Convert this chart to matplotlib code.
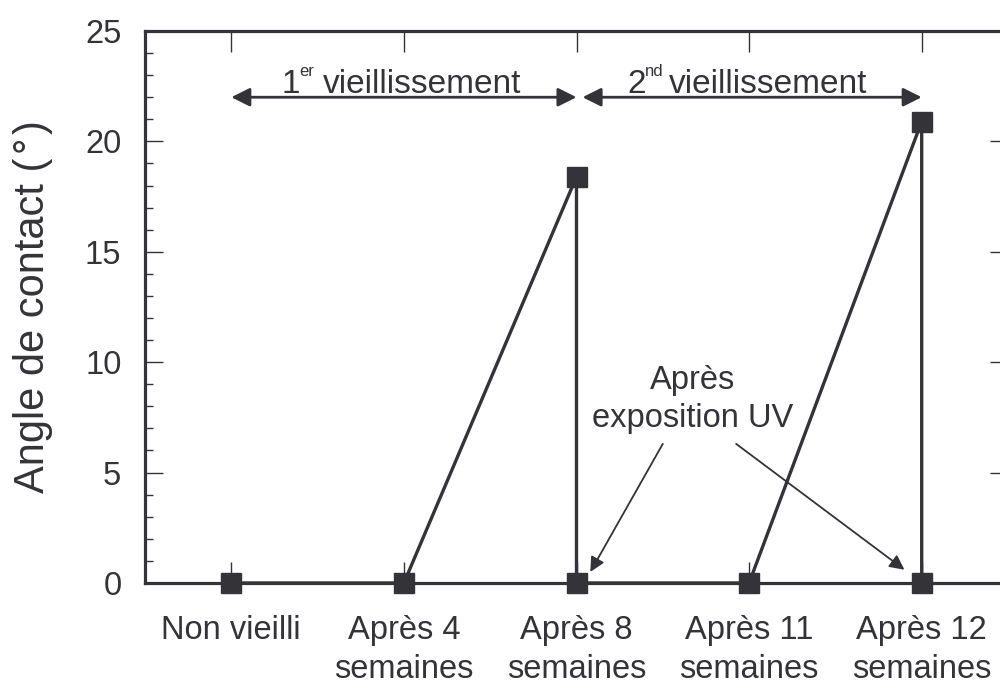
import matplotlib
matplotlib.use('Agg')
import matplotlib.pyplot as plt
from matplotlib.ticker import MultipleLocator

plt.rcParams['font.family'] = ['Liberation Sans', 'DejaVu Sans']

categories = ['Non vieilli', 'Après 4\nsemaines', 'Après 8\nsemaines',
              'Après 11\nsemaines', 'Après 12\nsemaines']
# path of the line (category index, angle), including the drops back to 0
path_x = [0, 1, 2, 2, 3, 4, 4]
path_y = [0, 0, 18.4, 0, 0, 20.9, 0]

col = '#333338'

fig = plt.figure(figsize=(10, 6.84), dpi=100)
ax = fig.add_axes([0.145, 0.1477, 0.863, 0.8070])

ax.plot(path_x, path_y, '-', color=col, lw=2.4, marker='s', ms=15,
        mfc=col, mec=col, clip_on=False, zorder=5)

ax.set_xlim(-0.5, 4.5)
ax.set_ylim(0, 25)
ax.set_xticks(range(len(categories)))
ax.set_xticklabels(categories, fontsize=23.5, color=col, linespacing=1.32)
ax.yaxis.set_major_locator(MultipleLocator(5))
ax.yaxis.set_minor_locator(MultipleLocator(1))
ax.tick_params(axis='both', which='both', direction='in', colors=col,
               top=True, right=True, width=1)
ax.tick_params(axis='y', which='major', length=13, labelsize=23.5, pad=17)
ax.tick_params(axis='y', which='minor', length=6)
ax.tick_params(axis='x', which='major', length=15, pad=23)
ax.tick_params(axis='x', which='minor', bottom=False, top=False)
for s in ax.spines.values():
    s.set_linewidth(2.3)
    s.set_color(col)

ax.set_ylabel('Angle de contact (\u200a°\u200a)', fontsize=30, color=col,
              labelpad=23)

# ageing period arrows
arrow_kw = dict(arrowstyle='<|-|>', color=col, lw=2, shrinkA=0, shrinkB=0,
                mutation_scale=28)
ax.annotate('', xy=(2.0, 22), xytext=(0, 22), arrowprops=arrow_kw)
ax.annotate('', xy=(4.0, 22), xytext=(2.035, 22), arrowprops=arrow_kw)

# period labels with small superscripts
periods = [(1.0, '1', 'er'), (3.0, '2', 'nd')]
for xc, num, sup in periods:
    ax.annotate(num, xy=(xc, 22.2), xytext=(-88, 0), textcoords='offset points',
                ha='left', va='baseline', fontsize=24, color=col)
    ax.annotate(sup, xy=(xc, 22.2), xytext=(-75, 12), textcoords='offset points',
                ha='left', va='baseline', fontsize=12, color=col)
    ax.annotate('vieillissement', xy=(xc, 22.2), xytext=(-58, 0),
                textcoords='offset points', ha='left', va='baseline',
                fontsize=24, color=col)

# UV exposure note
ax.text(2.67, 8.3, 'Après\nexposition UV', ha='center', va='center',
        fontsize=23.5, color=col, linespacing=1.3)
thin_kw = dict(arrowstyle='-|>', color=col, lw=1.3, shrinkA=0, shrinkB=0,
               mutation_scale=22)
ax.annotate('', xy=(2.08, 0.5), xytext=(2.50, 6.3), arrowprops=thin_kw)
ax.annotate('', xy=(3.90, 0.6), xytext=(2.925, 6.3), arrowprops=thin_kw)

fig.savefig('out.png', dpi=100)
